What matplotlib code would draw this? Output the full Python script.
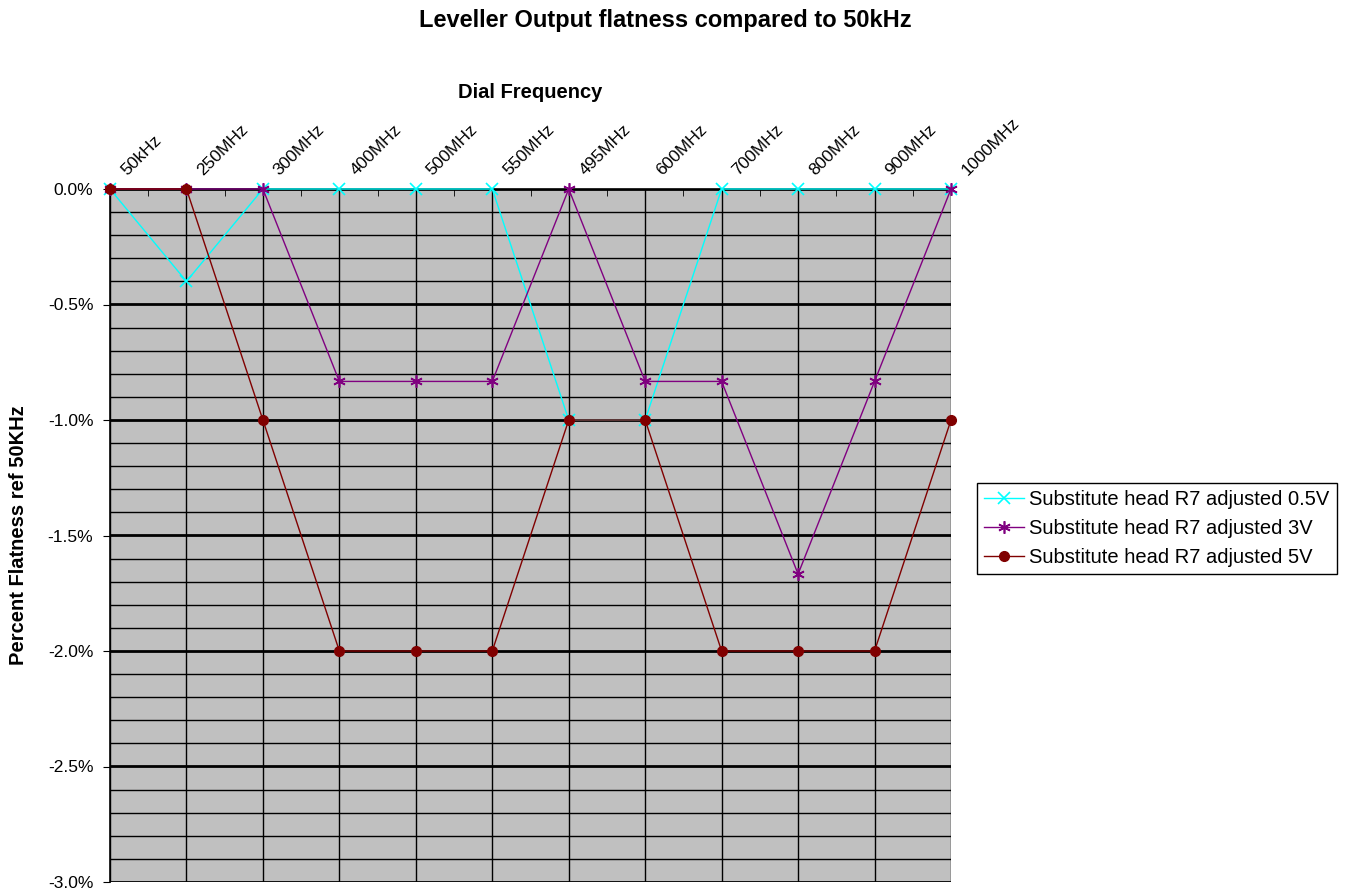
import numpy as np
import matplotlib.pyplot as plt
from matplotlib.ticker import MultipleLocator, FuncFormatter
from matplotlib.transforms import ScaledTranslation

plt.rcParams['font.family'] = ['Liberation Sans', 'DejaVu Sans']

# dial frequencies (in the order they were measured)
freqs = ["50kHz", "250MHz", "300MHz", "400MHz", "500MHz", "550MHz",
         "495MHz", "600MHz", "700MHz", "800MHz", "900MHz", "1000MHz"]

# percent flatness relative to 50kHz
flat_05v = [0.0, -0.4, 0.0, 0.0, 0.0, 0.0, -1.0, -1.0, 0.0, 0.0, 0.0, 0.0]
flat_3v = [0.0, 0.0, 0.0, -0.833, -0.833, -0.833, 0.0, -0.833, -0.833, -1.667, -0.833, 0.0]
flat_5v = [0.0, 0.0, -1.0, -2.0, -2.0, -2.0, -1.0, -1.0, -2.0, -2.0, -2.0, -1.0]

labels = ["Substitute head R7 adjusted 0.5V",
          "Substitute head R7 adjusted 3V",
          "Substitute head R7 adjusted 5V"]

W, H = 1345, 892
fig = plt.figure(figsize=(W/100, H/100), dpi=100)
ax = fig.add_axes([110/W, 1-882/H, (951-110)/W, (882-189)/H])
ax.set_facecolor('#C0C0C0')

x = np.arange(len(freqs))

#gridlines: thick every 0.5%, thin every 0.1%, plus one per category
for v in np.arange(-3.0, 0.001, 0.1):
    major = abs(v*2 - round(v*2)) < 1e-6
    ax.axhline(v, color='black', lw=2.0 if major else 1.0, zorder=1)
for xi in x:
    ax.axvline(xi, color='black', lw=1.0, zorder=1)

ax.plot(x, flat_05v, color='#00FFFF', lw=1, marker='x', ms=8, mew=1.2,
        label=labels[0], zorder=3, clip_on=False)
ax.plot(x, flat_3v, color='#800080', lw=1, marker=(6, 2, 0), ms=9, mew=1.2,
        label=labels[1], zorder=4, clip_on=False)
ax.plot(x, flat_5v, color='#800000', lw=1, marker='o', ms=7,
        label=labels[2], zorder=5, clip_on=False)

ax.set_xlim(0, len(freqs)-1)
ax.set_ylim(-3.0, 0.0)

#category axis sits along the top (crosses at 0%)
ax.xaxis.tick_top()
ax.set_xticks(x)
ax.set_xticklabels(freqs, rotation=45, ha='left', va='bottom',
                   rotation_mode='anchor', fontsize=12.5)
ax.tick_params(axis='x', which='major', length=0, pad=6)
shift = ScaledTranslation(0.19, 0.03, fig.dpi_scale_trans)
for lab in ax.get_xticklabels():
    lab.set_transform(lab.get_transform() + shift)
ax.set_xticks(x[:-1] + 0.5, minor=True)
ax.tick_params(axis='x', which='minor', direction='in', length=5, color='black')

ax.yaxis.set_major_locator(MultipleLocator(0.5))
ax.yaxis.set_major_formatter(FuncFormatter(lambda v, p: "%.1f%%" % (0.0 if abs(v) < 1e-9 else v)))
ax.tick_params(axis='y', which='major', length=5, labelsize=12.5, pad=7)

for side in ['right', 'bottom']:
    ax.spines[side].set_visible(False)
ax.spines['top'].set_linewidth(1.2)
ax.spines['left'].set_linewidth(1.2)

fig.text(665/W, 1-20/H, "Leveller Output flatness compared to 50kHz",
         fontsize=17, fontweight='bold', ha='center', va='center')
fig.text(530/W, 1-92/H, "Dial Frequency", fontsize=14.5, fontweight='bold',
         ha='center', va='center')
fig.text(19/W, 1-535/H, "Percent Flatness ref 50KHz", fontsize=14.5,
         fontweight='bold', ha='center', va='center', rotation=90)

leg = ax.legend(loc='upper left', bbox_to_anchor=(977/W, 1-483/H),
                bbox_transform=fig.transFigure, borderaxespad=0, fontsize=14.5,
                fancybox=False, edgecolor='black', framealpha=1,
                handlelength=2.0, handletextpad=0.25, borderpad=0.35, labelspacing=0.5)
leg.get_frame().set_linewidth(1.0)

fig.savefig("out.png", dpi=100)
